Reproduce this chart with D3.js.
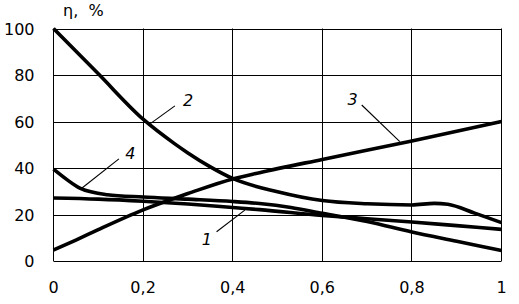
<!DOCTYPE html>
<html><head><meta charset="utf-8">
<script src="https://cdn.jsdelivr.net/npm/d3@7"></script>
<style>html,body{margin:0;padding:0;background:#fff;}svg{display:block;}</style>
</head><body>
<svg id="c" width="519" height="304"></svg>
<script>
const xTicks = [0, 0.2, 0.4, 0.6, 0.8, 1];
const xTickLabels = ["0", "0,2", "0,4", "0,6", "0,8", "1"];
const yTicks = [0, 20, 40, 60, 80, 100];
const yTickLabels = ["0", "20", "40", "60", "80", "100"];
const yAxisTitle = "η,  %";

const curve1X = [0, 0.1, 0.2, 0.3, 0.4, 0.46, 0.6, 0.7, 0.8, 0.9, 1];
const curve1Y = [27.1, 26.6, 25.7, 24.5, 23, 22.1, 19.6, 18.2, 16.8, 15.2, 13.6];
const curve2X = [0, 0.1, 0.2, 0.27, 0.3, 0.35, 0.4, 0.5, 0.6, 0.7, 0.8, 0.85, 0.88, 0.94, 1];
const curve2Y = [100, 80.5, 61, 50.5, 46.5, 40.5, 35.5, 29.8, 26, 24.6, 24.1, 24.8, 24.4, 20.6, 16.5];
const curve3X = [0, 0.05, 0.1, 0.2, 0.27, 0.3, 0.4, 0.46, 0.6, 0.8, 1];
const curve3Y = [4.7, 9, 13.5, 22, 27, 29, 35.3, 38, 43.7, 51.6, 60];
const curve4X = [0, 0.03, 0.06, 0.12, 0.2, 0.3, 0.4, 0.46, 0.53, 0.6, 0.7, 0.8, 0.9, 1];
const curve4Y = [39.5, 35, 31.2, 28.5, 27.5, 26.6, 25.6, 24.7, 23, 20.5, 17, 12.5, 8.5, 4.5];

const labelNames = ["1", "2", "3", "4"];
const labelX = [0.331, 0.289, 0.656, 0.16];
const labelY = [6.9, 66.7, 67.1, 43.9];
const leaderFromX = [0.364, 0.271, 0.688, 0.146];
const leaderFromY = [12.6, 66.7, 67.1, 43.9];
const leaderToX = [0.427, 0.217, 0.773, 0.063];
const leaderToY = [21.9, 59.2, 51.3, 31.3];

const svg = d3.select("#c");
const x = d3.scaleLinear().domain([0, 1]).range([53.5, 501.5]);
const y = d3.scaleLinear().domain([0, 100]).range([261, 28.5]);
const font = "DejaVu Sans, sans-serif";

// grid
svg.append("g").selectAll("line").data(yTicks).join("line")
  .attr("x1", x(0)).attr("x2", x(1))
  .attr("y1", d => Math.round(y(d)) + 0.5).attr("y2", d => Math.round(y(d)) + 0.5)
  .attr("stroke", "#000").attr("stroke-width", 1);
svg.append("g").selectAll("line").data(xTicks).join("line")
  .attr("y1", y(0)).attr("y2", y(100))
  .attr("x1", d => Math.round(x(d) - 0.5) + 0.5).attr("x2", d => Math.round(x(d) - 0.5) + 0.5)
  .attr("stroke", "#000").attr("stroke-width", 1);

// tick labels
svg.append("g").selectAll("text").data(yTicks).join("text")
  .attr("x", 34.5).attr("y", d => y(d) + 6)
  .attr("text-anchor", "end").attr("font-family", font).attr("font-size", 16)
  .text((d, i) => yTickLabels[i]);
svg.append("g").selectAll("text").data(xTicks).join("text")
  .attr("x", d => x(d)).attr("y", 293)
  .attr("text-anchor", "middle").attr("font-family", font).attr("font-size", 16)
  .text((d, i) => xTickLabels[i]);
svg.append("text").attr("x", 63).attr("y", 16)
  .attr("font-family", font).attr("font-size", 16)
  .style("white-space", "pre").text(yAxisTitle);

// curves
const line = d3.line().x(d => x(d[0])).y(d => y(d[1])).curve(d3.curveMonotoneX);
const curves = [[curve1X, curve1Y], [curve2X, curve2Y], [curve3X, curve3Y], [curve4X, curve4Y]];
curves.forEach(([xs, ys]) => {
  svg.append("path").datum(xs.map((v, i) => [v, ys[i]]))
    .attr("d", line).attr("fill", "none").attr("stroke", "#000")
    .attr("stroke-width", 3.6).attr("stroke-linejoin", "round");
});

// leaders and labels
labelNames.forEach((n, i) => {
  svg.append("line")
    .attr("x1", x(leaderFromX[i])).attr("y1", y(leaderFromY[i]))
    .attr("x2", x(leaderToX[i])).attr("y2", y(leaderToY[i]))
    .attr("stroke", "#000").attr("stroke-width", 1.1);
  svg.append("text").attr("x", x(labelX[i])).attr("y", y(labelY[i]))
    .attr("font-family", font).attr("font-size", 16).attr("font-style", "italic")
    .text(n);
});
</script>
</body></html>
